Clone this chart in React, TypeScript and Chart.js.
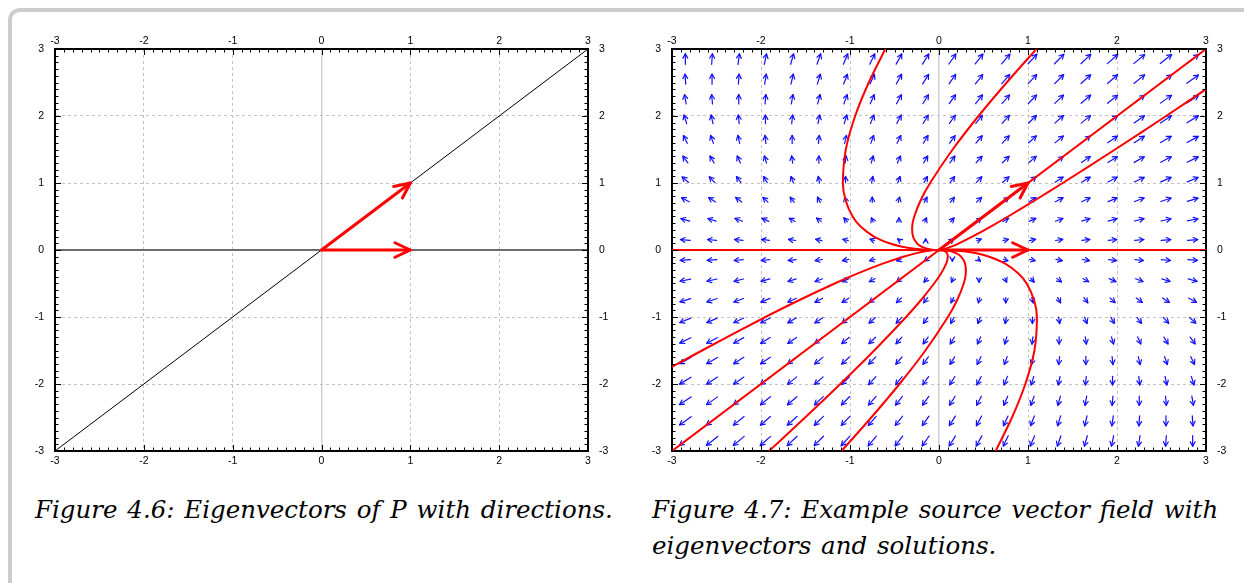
import React, { useEffect, useRef } from "react";
import { Chart, registerables } from "chart.js";

Chart.register(...registerables);

// ---------- axes ----------
const AXIS_MIN = -3;
const AXIS_MAX = 3;
const AXIS_STEP = 1;
const MINOR_DIVISIONS = 10; // minor tick marks per unit

// ---------- left panel (Figure 4.6) ----------
const leftDiagonal: [number, number][] = [[-3, -3], [3, 3]];
const leftHorizontal: [number, number][] = [[-3, 0], [3, 0]];
const eigenvectorA: [number, number][] = [[0, 0], [1, 1]];
const eigenvectorB: [number, number][] = [[0, 0], [1, 0]];

// ---------- right panel (Figure 4.7) ----------
const fieldMatrix = [
  [1, 1],
  [0, 2],
];
const fieldGrid = [
  -2.85, -2.55, -2.25, -1.95, -1.65, -1.35, -1.05, -0.75, -0.45, -0.15,
  0.15, 0.45, 0.75, 1.05, 1.35, 1.65, 1.95, 2.25, 2.55, 2.85,
];
const solutionDiagonal: [number, number][] = [[-3, -3], [3, 3]];
const solutionHorizontal: [number, number][] = [[-3, 0], [3, 0]];
const solutionUpperFar: [number, number][] = [
  [0, 0], [-0.142, 0.005], [-0.274, 0.02], [-0.415, 0.05], [-0.558, 0.1], [-0.73, 0.2],
  [-0.881, 0.35], [-0.971, 0.5], [-1.051, 0.75], [-1.08, 1], [-1.047, 1.5], [-0.942, 2],
  [-0.789, 2.5], [-0.603, 3],
];
const solutionUpperNear: [number, number][] = [
  [0, 0], [-0.073, 0.005], [-0.136, 0.02], [-0.196, 0.05], [-0.248, 0.1], [-0.292, 0.2],
  [-0.301, 0.35], [-0.278, 0.5], [-0.203, 0.75], [-0.1, 1], [0.153, 1.5], [0.444, 2],
  [0.761, 2.5], [1.095, 3],
];
const solutionUpperRight: [number, number][] = [
  [0, 0], [0.033, 0.005], [0.075, 0.02], [0.137, 0.05], [0.223, 0.1], [0.374, 0.2],
  [0.581, 0.35], [0.776, 0.5], [1.088, 0.75], [1.39, 1], [1.978, 1.5], [2.552, 2], [3.0, 2.4],
];
const solutionLowerLeft: [number, number][] = [
  [0, 0], [-0.072, -0.005], [-0.154, -0.02], [-0.262, -0.05], [-0.4, -0.1], [-0.625, -0.2],
  [-0.912, -0.35], [-1.172, -0.5], [-1.573, -0.75], [-1.95, -1], [-2.663, -1.5], [-3.0, -1.745],
];
const solutionLowerMid: [number, number][] = [
  [0, 0], [0.04, -0.005], [0.069, -0.02], [0.091, -0.05], [0.099, -0.1], [0.082, -0.2],
  [0.023, -0.35], [-0.055, -0.5], [-0.204, -0.75], [-0.37, -1], [-0.728, -1.5], [-1.109, -2],
  [-1.504, -2.5], [-1.909, -3],
];
const solutionLowerNear: [number, number][] = [
  [0, 0], [0.073, -0.005], [0.136, -0.02], [0.196, -0.05], [0.248, -0.1], [0.292, -0.2],
  [0.301, -0.35], [0.278, -0.5], [0.203, -0.75], [0.1, -1], [-0.153, -1.5], [-0.444, -2],
  [-0.761, -2.5], [-1.095, -3],
];
const solutionLowerRight: [number, number][] = [
  [0, 0], [0.143, -0.005], [0.277, -0.02], [0.42, -0.05], [0.564, -0.1], [0.739, -0.2],
  [0.892, -0.35], [0.985, -0.5], [1.069, -0.75], [1.1, -1], [1.072, -1.5], [0.97, -2],
  [0.82, -2.5], [0.637, -3],
];

const captionLeft = "Figure 4.6: Eigenvectors of P with directions.";
const captionRightLine1 = "Figure 4.7: Example source vector field with";
const captionRightLine2 = "eigenvectors and solutions.";

// ---------- helpers ----------
const pts = (arr: [number, number][]) => arr.map(([x, y]) => ({ x, y }));

const TICK_FONT = { family: "'Liberation Sans', Arial, Helvetica, sans-serif", size: 10.5 };

function makeScales(rightWidth: number) {
  const common = (position: string, gridOn: boolean, padding: number, fit: (s: any) => void) => ({
    type: "linear",
    position,
    min: AXIS_MIN,
    max: AXIS_MAX,
    ticks: {
      stepSize: AXIS_STEP,
      color: "#000",
      font: TICK_FONT,
      padding,
      autoSkip: false,
      maxRotation: 0,
    },
    grid: {
      display: gridOn,
      drawTicks: false,
      color: (c: any) => (c.tick && c.tick.value === 0 ? "#cfcfcf" : "#c2c2c2"),
      lineWidth: (c: any) => (c.tick && c.tick.value === 0 ? 1.5 : 1),
    },
    border: {
      display: true,
      color: "#000",
      width: 2,
      dash: (c: any) => (c.tick && c.tick.value === 0 ? [] : [3, 3]),
    },
    afterFit: fit,
  });
  return {
    x: common("bottom", true, 4, (s) => { s.height = 29; }),
    x2: common("top", false, 2, (s) => { s.height = 19; }),
    y: common("left", true, 11, (s) => { s.width = 35; }),
    y2: common("right", false, 11, (s) => { s.width = rightWidth; }),
  };
}

function strokeHead(ctx: CanvasRenderingContext2D, x1: number, y1: number, x2: number, y2: number, len: number, half: number) {
  const ang = Math.atan2(y2 - y1, x2 - x1);
  ctx.beginPath();
  ctx.moveTo(x2 - len * Math.cos(ang - half), y2 - len * Math.sin(ang - half));
  ctx.lineTo(x2, y2);
  ctx.lineTo(x2 - len * Math.cos(ang + half), y2 - len * Math.sin(ang + half));
  ctx.stroke();
}

const frameTicksPlugin = {
  id: "frameTicks",
  afterDraw(chart: any) {
    const { ctx, chartArea: a, scales } = chart;
    const xs = scales.x;
    const ys = scales.y;
    ctx.save();
    ctx.strokeStyle = "#000";
    ctx.lineWidth = 1;
    const n = (AXIS_MAX - AXIS_MIN) * MINOR_DIVISIONS;
    for (let i = 0; i <= n; i++) {
      const v = AXIS_MIN + i / MINOR_DIVISIONS;
      const major = i % MINOR_DIVISIONS === 0;
      const len = major ? 6 : 3.5;
      const px = Math.round(xs.getPixelForValue(v)) + 0.5;
      const py = Math.round(ys.getPixelForValue(v)) + 0.5;
      ctx.beginPath();
      ctx.moveTo(px, a.top); ctx.lineTo(px, a.top + len);
      ctx.moveTo(px, a.bottom); ctx.lineTo(px, a.bottom - len);
      ctx.moveTo(a.left, py); ctx.lineTo(a.left + len, py);
      ctx.moveTo(a.right, py); ctx.lineTo(a.right - len, py);
      ctx.stroke();
    }
    ctx.restore();
  },
};

const arrowHeadsPlugin = {
  id: "arrowHeads",
  afterDatasetsDraw(chart: any) {
    const { ctx } = chart;
    chart.data.datasets.forEach((ds: any, i: number) => {
      if (!ds.arrowHead) return;
      const els = chart.getDatasetMeta(i).data;
      if (els.length < 2) return;
      const p1 = els[els.length - 2];
      const p2 = els[els.length - 1];
      ctx.save();
      ctx.strokeStyle = ds.borderColor;
      ctx.lineWidth = ds.borderWidth;
      ctx.lineCap = "round";
      ctx.lineJoin = "round";
      strokeHead(ctx, p1.x, p1.y, p2.x, p2.y, 17, 0.44);
      ctx.restore();
    });
  },
};

const ARROW_SCALE = 0.066;
const vectorFieldPlugin = {
  id: "vectorField",
  beforeDatasetsDraw(chart: any) {
    const { ctx, chartArea: a, scales } = chart;
    const xs = scales.x;
    const ys = scales.y;
    ctx.save();
    ctx.beginPath();
    ctx.rect(a.left, a.top, a.right - a.left, a.bottom - a.top);
    ctx.clip();
    ctx.strokeStyle = "#1010ff";
    ctx.lineWidth = 1.2;
    ctx.lineCap = "round";
    ctx.lineJoin = "round";
    for (const gx of fieldGrid) {
      for (const gy of fieldGrid) {
        const vx = fieldMatrix[0][0] * gx + fieldMatrix[0][1] * gy;
        const vy = fieldMatrix[1][0] * gx + fieldMatrix[1][1] * gy;
        const m = Math.hypot(vx, vy);
        if (m === 0) continue;
        const L = ARROW_SCALE * Math.sqrt(m);
        const dx = ((vx / m) * L) / 2;
        const dy = ((vy / m) * L) / 2;
        const x1 = xs.getPixelForValue(gx - dx);
        const y1 = ys.getPixelForValue(gy - dy);
        const x2 = xs.getPixelForValue(gx + dx);
        const y2 = ys.getPixelForValue(gy + dy);
        ctx.beginPath();
        ctx.moveTo(x1, y1);
        ctx.lineTo(x2, y2);
        ctx.stroke();
        strokeHead(ctx, x1, y1, x2, y2, 5, 0.5);
      }
    }
    ctx.restore();
  },
};

function lineDs(data: [number, number][], color: string, width: number, extra: any = {}) {
  return {
    data: pts(data),
    showLine: true,
    borderColor: color,
    backgroundColor: color,
    borderWidth: width,
    pointRadius: 0,
    pointHoverRadius: 0,
    fill: false,
    tension: 0,
    ...extra,
  };
}

const baseOptions = (rightWidth: number) => ({
  responsive: false,
  animation: false,
  devicePixelRatio: 1,
  events: [],
  layout: { padding: 0 },
  plugins: { legend: { display: false }, tooltip: { enabled: false }, title: { display: false } },
  scales: makeScales(rightWidth),
});

function ChartCanvas({ build, left, top, width, height }: any) {
  const ref = useRef<HTMLCanvasElement | null>(null);
  useEffect(() => {
    if (!ref.current) return;
    const chart = new Chart(ref.current, build());
    return () => chart.destroy();
  }, []);
  return (
    <canvas
      ref={ref}
      width={width}
      height={height}
      style={{ position: "absolute", left, top, width, height }}
    />
  );
}

const buildLeft = () => ({
  type: "scatter",
  data: {
    datasets: [
      lineDs(eigenvectorA, "#ff0000", 3, { arrowHead: true, borderCapStyle: "round" }),
      lineDs(eigenvectorB, "#ff0000", 3, { arrowHead: true, borderCapStyle: "round" }),
      lineDs(leftDiagonal, "#000000", 1),
      lineDs(leftHorizontal, "#000000", 1),
    ],
  },
  options: baseOptions(32),
  plugins: [arrowHeadsPlugin, frameTicksPlugin],
});

const buildRight = () => ({
  type: "scatter",
  data: {
    datasets: [
      lineDs(eigenvectorA, "#ff0000", 3, { arrowHead: true, borderCapStyle: "round" }),
      lineDs(eigenvectorB, "#ff0000", 3, { arrowHead: true, borderCapStyle: "round" }),
      lineDs(solutionHorizontal, "#ff0000", 2),
      lineDs(solutionDiagonal, "#ff0000", 2),
      lineDs(solutionUpperFar, "#ff0000", 2, { tension: 0.3 }),
      lineDs(solutionUpperNear, "#ff0000", 2, { tension: 0.3 }),
      lineDs(solutionUpperRight, "#ff0000", 2, { tension: 0.3 }),
      lineDs(solutionLowerLeft, "#ff0000", 2, { tension: 0.3 }),
      lineDs(solutionLowerMid, "#ff0000", 2, { tension: 0.3 }),
      lineDs(solutionLowerNear, "#ff0000", 2, { tension: 0.3 }),
      lineDs(solutionLowerRight, "#ff0000", 2, { tension: 0.3 }),
    ],
  },
  options: baseOptions(31),
  plugins: [vectorFieldPlugin, arrowHeadsPlugin, frameTicksPlugin],
});

const captionStyle: any = {
  position: "absolute",
  fontFamily: "'DejaVu Serif', serif",
  fontStyle: "italic",
  fontSize: 24.5,
  lineHeight: "36px",
  wordSpacing: "2px",
  color: "#000",
  whiteSpace: "nowrap",
};

export default function App() {
  return (
    <div style={{ position: "fixed", left: 0, top: 0, right: 0, bottom: 0, overflow: "hidden", background: "#fff" }}>
      <div
        style={{
          position: "absolute",
          left: 8,
          top: 8,
          width: 1300,
          height: 700,
          border: "4px solid #cccccc",
          borderRadius: 12,
          boxSizing: "border-box",
        }}
      />
      <ChartCanvas build={buildLeft} left={20} top={30} width={600} height={450} />
      <ChartCanvas build={buildRight} left={637} top={30} width={600} height={450} />
      <div style={{ ...captionStyle, left: 35, top: 492 }}>{captionLeft}</div>
      <div style={{ ...captionStyle, left: 652, top: 492 }}>
        {captionRightLine1}
        <br />
        {captionRightLine2}
      </div>
    </div>
  );
}
